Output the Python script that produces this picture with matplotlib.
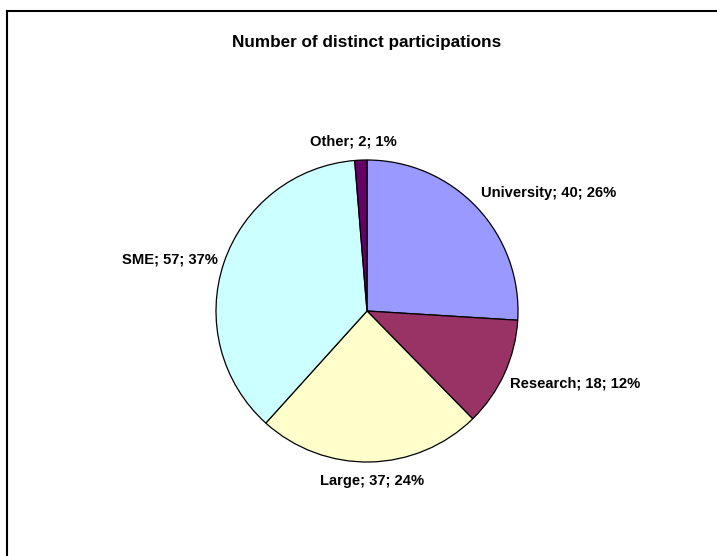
import matplotlib.pyplot as plt
from matplotlib.lines import Line2D

categories = ['University', 'Research', 'Large', 'SME', 'Other']
counts = [40, 18, 37, 57, 2]
colors = ['#9999FF', '#993366', '#FFFFCC', '#CCFFFF', '#660066']

# label anchor positions in pixel coords (x, y from top)
label_pos = [(549, 193), (575, 383), (372, 481), (170, 259), (353, 142)]

W, H = 717, 556
fig = plt.figure(figsize=(W / 100, H / 100), dpi=100)
ax = fig.add_axes([0, 0, 1, 1])

ax.pie(counts, colors=colors, startangle=90, counterclock=False,
       center=(367, H - 311), radius=151,
       wedgeprops=dict(edgecolor='black', linewidth=0.9))

# pie() resets the limits, so set them afterwards
ax.set_xlim(0, W)
ax.set_ylim(0, H)
ax.set_aspect('equal')
ax.axis('off')

total = sum(counts)
for cat, n, (px, py) in zip(categories, counts, label_pos):
    pct = round(100.0 * n / total)
    ax.text(px, H - py, '%s; %d; %d%%' % (cat, n, pct), ha='center', va='center',
            fontsize=10.6, fontweight='bold', family='Liberation Sans')

ax.text(367, H - 43, 'Number of distinct participations', ha='center', va='center',
        fontsize=12.3, fontweight='bold', family='Liberation Sans')

# chart area border (runs off right and bottom edges)
fig.add_artist(Line2D([7 / W, 7 / W], [0, 1 - 11 / H], color='black', lw=1.5, transform=fig.transFigure))
fig.add_artist(Line2D([7 / W, 1], [1 - 11 / H, 1 - 11 / H], color='black', lw=1.5, transform=fig.transFigure))

fig.savefig('out.png', dpi=100)
